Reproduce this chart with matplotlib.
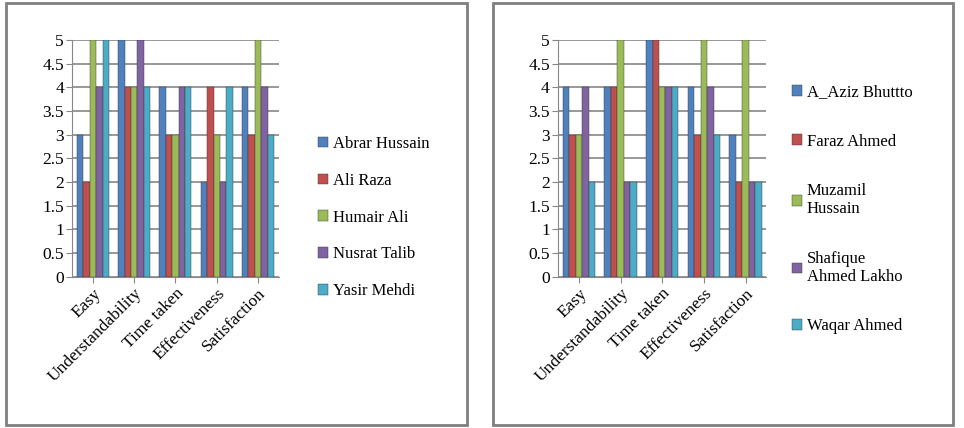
import numpy as np
import matplotlib.pyplot as plt
from matplotlib.patches import Rectangle

plt.rcParams['font.family'] = ['Liberation Serif', 'DejaVu Serif']

criteria = ["Easy", "Understandability", "Time taken", "Effectiveness", "Satisfaction"]
colors = ["#4F81BD", "#C0504D", "#9BBB59", "#8064A2", "#4BACC6"]

left_names = ["Abrar Hussain", "Ali Raza", "Humair Ali", "Nusrat Talib", "Yasir Mehdi"]
left_scores = [
    [3, 5, 4, 2, 4],   # Abrar Hussain
    [2, 4, 3, 4, 3],   # Ali Raza
    [5, 4, 3, 3, 5],   # Humair Ali
    [4, 5, 4, 2, 4],   # Nusrat Talib
    [5, 4, 4, 4, 3],   # Yasir Mehdi
]

right_names = ["A_Aziz Bhuttto", "Faraz Ahmed", "Muzamil\nHussain", "Shafique\nAhmed Lakho", "Waqar Ahmed"]
right_scores = [
    [4, 4, 5, 4, 3],   # A_Aziz Bhuttto
    [3, 4, 5, 3, 2],   # Faraz Ahmed
    [3, 5, 4, 5, 5],   # Muzamil Hussain
    [4, 2, 4, 4, 2],   # Shafique Ahmed Lakho
    [2, 2, 4, 3, 2],   # Waqar Ahmed
]

fig = plt.figure(figsize=(9.64, 4.28), dpi=100)

# panel borders
for x0 in (0.006, 0.511):
    fig.patches.append(Rectangle((x0, 0.008), 0.478, 0.984, transform=fig.transFigure,
                                 fill=False, edgecolor="#7f7f7f", linewidth=2))


def draw_panel(ax, names, scores):
    x = np.arange(len(criteria))
    w = 0.155
    for i, (name, vals) in enumerate(zip(names, scores)):
        ax.bar(x - 2 * w + i * w, vals, w, color=colors[i], label=name,
               edgecolor="#333333", linewidth=0.3, zorder=3)
    ax.set_ylim(0, 5)
    ax.set_xlim(-0.5, 4.5)
    ax.set_yticks(np.arange(0, 5.01, 0.5))
    ax.set_yticklabels(["0", "0.5", "1", "1.5", "2", "2.5", "3", "3.5", "4", "4.5", "5"], fontsize=12.5)
    ax.set_xticks(x)
    ax.set_xticklabels(criteria, rotation=45, ha="right", rotation_mode="anchor", fontsize=12.5)
    ax.grid(axis="y", color="#888888", linewidth=1.2, zorder=0)
    for s in ["top", "right"]:
        ax.spines[s].set_visible(False)
    ax.spines["left"].set_color("#888888")
    ax.spines["bottom"].set_color("#888888")
    ax.tick_params(axis="y", length=4, color="#888888", pad=2)
    ax.tick_params(axis="x", length=4, color="#888888", pad=2)


ax1 = fig.add_axes([0.075, 0.353, 0.214, 0.554])
draw_panel(ax1, left_names, left_scores)
ax1.legend(loc="center left", bbox_to_anchor=(1.12, 0.25), frameon=False, fontsize=12,
           handlelength=0.6, handleheight=0.6, handletextpad=0.3, labelspacing=1.25)

ax2 = fig.add_axes([0.579, 0.353, 0.216, 0.554])
draw_panel(ax2, right_names, right_scores)
ax2.legend(loc="center left", bbox_to_anchor=(1.05, 0.285), frameon=False, fontsize=12,
           handlelength=0.6, handleheight=0.6, handletextpad=0.3, labelspacing=2.0)

fig.savefig("out.png", dpi=100)
